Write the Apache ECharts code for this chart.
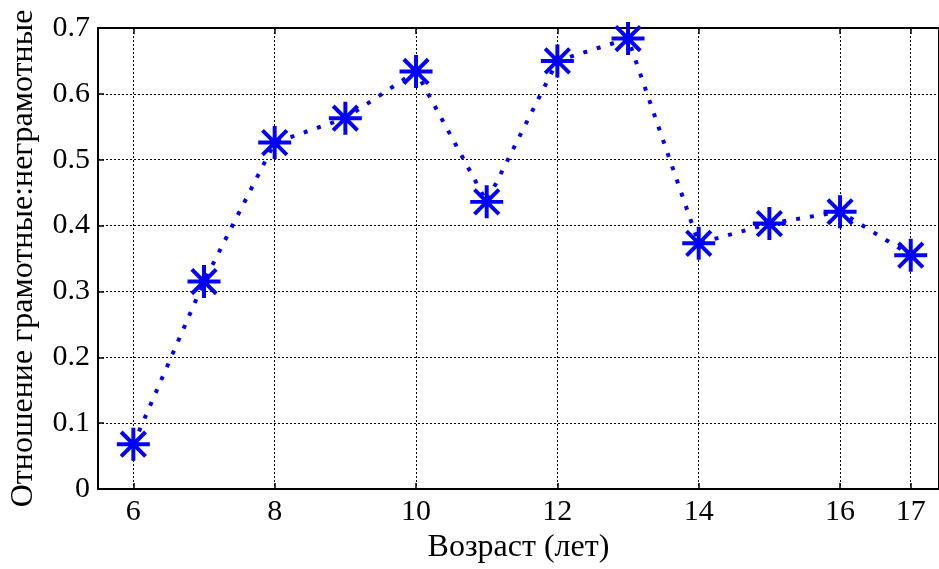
<!DOCTYPE html>
<html>
<head>
  <meta charset="utf-8">
  <script src="https://cdn.jsdelivr.net/npm/echarts@6/dist/echarts.min.js"></script>
  <style>
    html, body { margin: 0; padding: 0; background: #fff; }
    #chart { width: 939px; height: 569px; }
  </style>
</head>
<body>
<div id="chart"></div>
<script>
  // данные
  var ages = [6, 7, 8, 9, 10, 11, 12, 13, 14, 15, 16, 17];
  var ratio = [0.068, 0.315, 0.526, 0.563, 0.634, 0.436, 0.650, 0.684, 0.373, 0.403, 0.421, 0.355];
  var xTicks = [6, 8, 10, 12, 14, 16, 17];

  var points = ages.map(function (a, i) { return [a, ratio[i]]; });

  // звёздочка как в matlab (+ и x вместе)
  var star = 'path://M0 44L100 44L100 56L0 56Z M44 0L56 0L56 100L44 100Z ' +
    'M17.24 8.76L91.24 82.76L82.76 91.24L8.76 17.24Z ' +
    'M82.76 8.76L91.24 17.24L17.24 91.24L8.76 82.76Z';

  var font = '"Liberation Serif", "Times New Roman", serif';
  var grid = { type: [2, 2], color: '#000', width: 1 };

  var chart = echarts.init(document.getElementById('chart'));
  chart.setOption({
    backgroundColor: '#fff',
    animation: false,
    grid: { left: 97, top: 28, right: -1, bottom: 80, containLabel: false },
    xAxis: [{
      type: 'value',
      min: 5.5,
      max: 17.4,
      name: 'Возраст (лет)',
      nameLocation: 'middle',
      nameGap: 43,
      nameTextStyle: { fontFamily: font, fontSize: 32, color: '#000' },
      axisLine: { onZero: false, lineStyle: { color: '#000', width: 2 } },
      axisTick: { inside: true, length: 6, customValues: xTicks, lineStyle: { color: '#000', width: 1.5 } },
      axisLabel: { customValues: xTicks, margin: 8, fontFamily: font, fontSize: 30, color: '#000' },
      splitLine: { show: true, lineStyle: grid }
    }, {
      type: 'value',
      position: 'top',
      min: 5.5,
      max: 17.4,
      axisLine: { onZero: false, lineStyle: { color: '#000', width: 2 } },
      axisTick: { inside: true, length: 6, customValues: xTicks, lineStyle: { color: '#000', width: 1.5 } },
      axisLabel: { show: false },
      splitLine: { show: false }
    }],
    yAxis: [{
      type: 'value',
      min: 0,
      max: 0.7,
      interval: 0.1,
      name: 'Отношение грамотные:неграмотные',
      nameLocation: 'middle',
      nameGap: 58,
      nameTextStyle: { fontFamily: font, fontSize: 32, color: '#000' },
      axisLine: { show: true, onZero: false, lineStyle: { color: '#000', width: 2 } },
      axisTick: { show: true, inside: true, length: 6, lineStyle: { color: '#000', width: 1.5 } },
      axisLabel: {
        margin: 8, fontFamily: font, fontSize: 30, color: '#000',
        formatter: function (v) { return v === 0 ? '0' : (+v.toFixed(1)).toString(); }
      },
      splitLine: { show: true, lineStyle: grid }
    }, {
      type: 'value',
      position: 'right',
      min: 0,
      max: 0.7,
      interval: 0.1,
      axisLine: { show: true, onZero: false, lineStyle: { color: '#000', width: 2 } },
      axisTick: { show: false },
      axisLabel: { show: false },
      splitLine: { show: false }
    }],
    series: [{
      type: 'line',
      data: points,
      clip: false,
      symbol: star,
      symbolSize: 33,
      symbolKeepAspect: true,
      itemStyle: { color: '#0000ff' },
      lineStyle: { color: '#0000ff', width: 4, type: [4, 10], cap: 'butt' },
      z: 5
    }]
  });
</script>
</body>
</html>
